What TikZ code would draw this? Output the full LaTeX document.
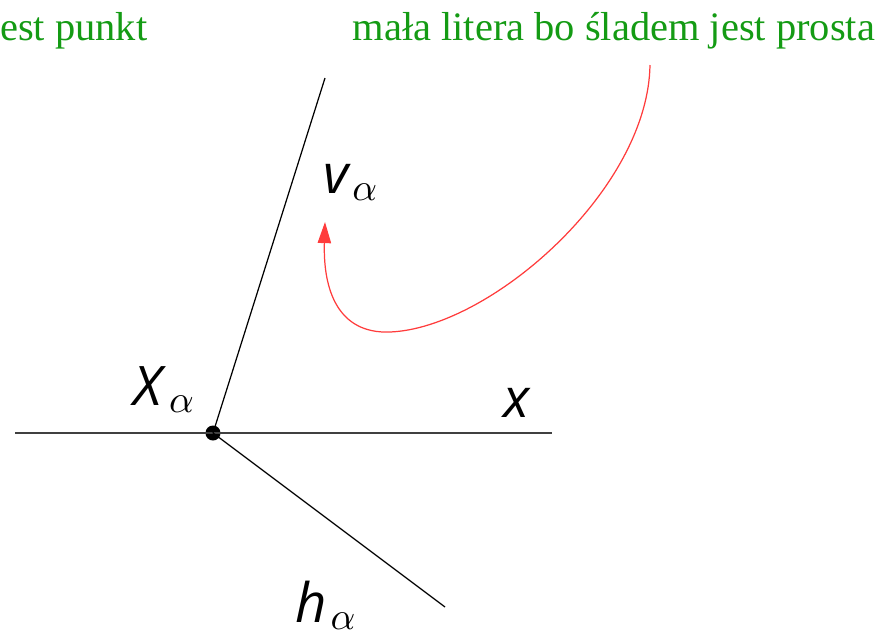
\documentclass[tikz,border=0pt]{standalone}
\usepackage{fontspec}
\newfontfamily\letterfont{Open Sans}
\newfontfamily\notefont{Liberation Serif}
\usetikzlibrary{positioning, arrows.meta, calc}
\definecolor{notegreen}{RGB}{20,155,20}
\definecolor{arrowred}{RGB}{255,60,60}

\begin{document}
\begin{tikzpicture}[
    x=0.01cm, y=-0.01cm,    % wspolrzedne w pikselach rysunku
    >=Triangle,
    % linie sladow i osi
    trace_line/.style={black, line width=0.35pt},
    axis_line/.style={black!75, line width=0.35pt},
    % etykiety sladow
    trace_label/.style={font=\fontsize{15.5}{17}\selectfont\letterfont\itshape, inner sep=0pt, anchor=base west},
    % zielone komentarze
    note/.style={notegreen, font=\fontsize{11.5}{13}\selectfont\notefont, inner sep=0pt},
    % czarny punkt (slad)
    trace_dot/.style={circle, fill=black, inner sep=0pt, minimum size=0.15cm}
]
    \useasboundingbox (0,0) rectangle (887,635);

    % --- 1. Os x i slady ---
    \coordinate (xl) at (15,433);
    \coordinate (xr) at (552,433);
    \coordinate (vtop) at (325,78);
    \coordinate (hbot) at (445,607);
    \node [trace_dot] (Xa) at (213,433) {};

    \draw [axis_line] (xl) -- (xr);
    \draw [trace_line] (Xa.center) -- (vtop);
    \draw [trace_line] (Xa.center) -- (hbot);

    % --- 2. Etykiety ---
    \node [trace_label] (labX) at (133,405) {X\kern2pt$_{\alpha}$};
    \node [trace_label] (labv) at (323,193) {v\kern1pt$_{\alpha}$};
    \node [trace_label] (labx) at (503,417) {x};
    \node [trace_label] (labh) at (295,622) {h\kern1pt$_{\alpha}$};

    % --- 3. Komentarze ---
    \node [note, anchor=base east] (noteX) at (148,40) {jest punkt};
    \node [note, anchor=base west] (notev) at (352,40) {mała litera bo śladem jest prosta};

    % czerwona strzalka od komentarza do v
    \coordinate (arrstart) at (650,65);
    \coordinate (arrlow) at (390,332);
    \coordinate (arrtip) at (325,222);
    \draw [arrowred, line width=0.35pt, -{Triangle[length=6pt, width=3.8pt]}]
        (arrstart) .. controls (648,190) and (490,328) .. (arrlow)
        .. controls (338,334) and (323,290) .. (arrtip);

\end{tikzpicture}
\end{document}
